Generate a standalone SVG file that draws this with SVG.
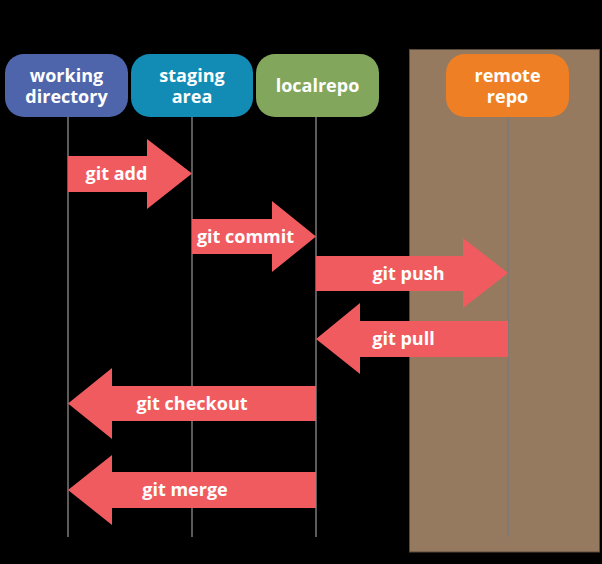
<svg xmlns="http://www.w3.org/2000/svg" width="602" height="564" viewBox="0 0 602 564">
<style>
.lbl{font-family:"Open Sans","Noto Sans","Liberation Sans",sans-serif;font-weight:bold;font-size:18px;fill:#ffffff;text-anchor:middle}
.life{stroke:#7a7a7a;stroke-width:1.5;fill:none}
.arr{fill:#f05b5f}
</style>
<rect x="0" y="0" width="602" height="564" fill="#000000"/>
<rect id="remote-zone" x="409.5" y="49.5" width="190" height="502.5" fill="#967a5f" stroke="#5a4a3a" stroke-width="1"/>
<g id="lifelines">
<line class="life" x1="68" y1="117" x2="68" y2="537"/>
<line class="life" x1="192" y1="117" x2="192" y2="537"/>
<line class="life" x1="316" y1="117" x2="316" y2="537"/>
<line class="life" x1="508" y1="117" x2="508" y2="537"/>
</g>
<g id="node-working">
<rect x="5" y="54" width="123" height="63" rx="19" fill="#4f65ab"/>
<text class="lbl" x="66.5" y="82">working</text>
<text class="lbl" x="66.5" y="103">directory</text>
</g>
<g id="node-staging">
<rect x="131" y="54" width="122" height="63" rx="19" fill="#138cb5"/>
<text class="lbl" x="192" y="82">staging</text>
<text class="lbl" x="192" y="103">area</text>
</g>
<g id="node-local">
<rect x="256" y="54" width="123" height="63" rx="19" fill="#83a65d"/>
<text class="lbl" x="317.5" y="92">localrepo</text>
</g>
<g id="node-remote">
<rect x="446" y="54" width="123" height="63" rx="19" fill="#ef7f24"/>
<text class="lbl" x="507.5" y="82">remote</text>
<text class="lbl" x="507.5" y="103">repo</text>
</g>
<g id="connectors">
<g id="git-add">
<polygon class="arr" points="68,156 147,156 147,139 192,173.5 147,209 147,192 68,192"/>
<text class="lbl" x="116.5" y="180">git add</text>
</g>
<g id="git-commit">
<polygon class="arr" points="192,219 272,219 272,201 316,236.5 272,272 272,254 192,254"/>
<text class="lbl" x="245.5" y="243">git commit</text>
</g>
<g id="git-push">
<polygon class="arr" points="316,256 463,256 463,238 508,273 463,308 463,291 316,291"/>
<text class="lbl" x="408.5" y="280">git push</text>
</g>
<g id="git-pull">
<polygon class="arr" points="508,321 360,321 360,303 316,339 360,374 360,357 508,357"/>
<text class="lbl" x="403.5" y="345">git pull</text>
</g>
<g id="git-checkout">
<polygon class="arr" points="316,386 112,386 112,368 68,403.5 112,439 112,421 316,421"/>
<text class="lbl" x="192" y="410">git checkout</text>
</g>
<g id="git-merge">
<polygon class="arr" points="316,472 112,472 112,455 68,490 112,525 112,508 316,508"/>
<text class="lbl" x="185" y="496">git merge</text>
</g>
</g>
</svg>
